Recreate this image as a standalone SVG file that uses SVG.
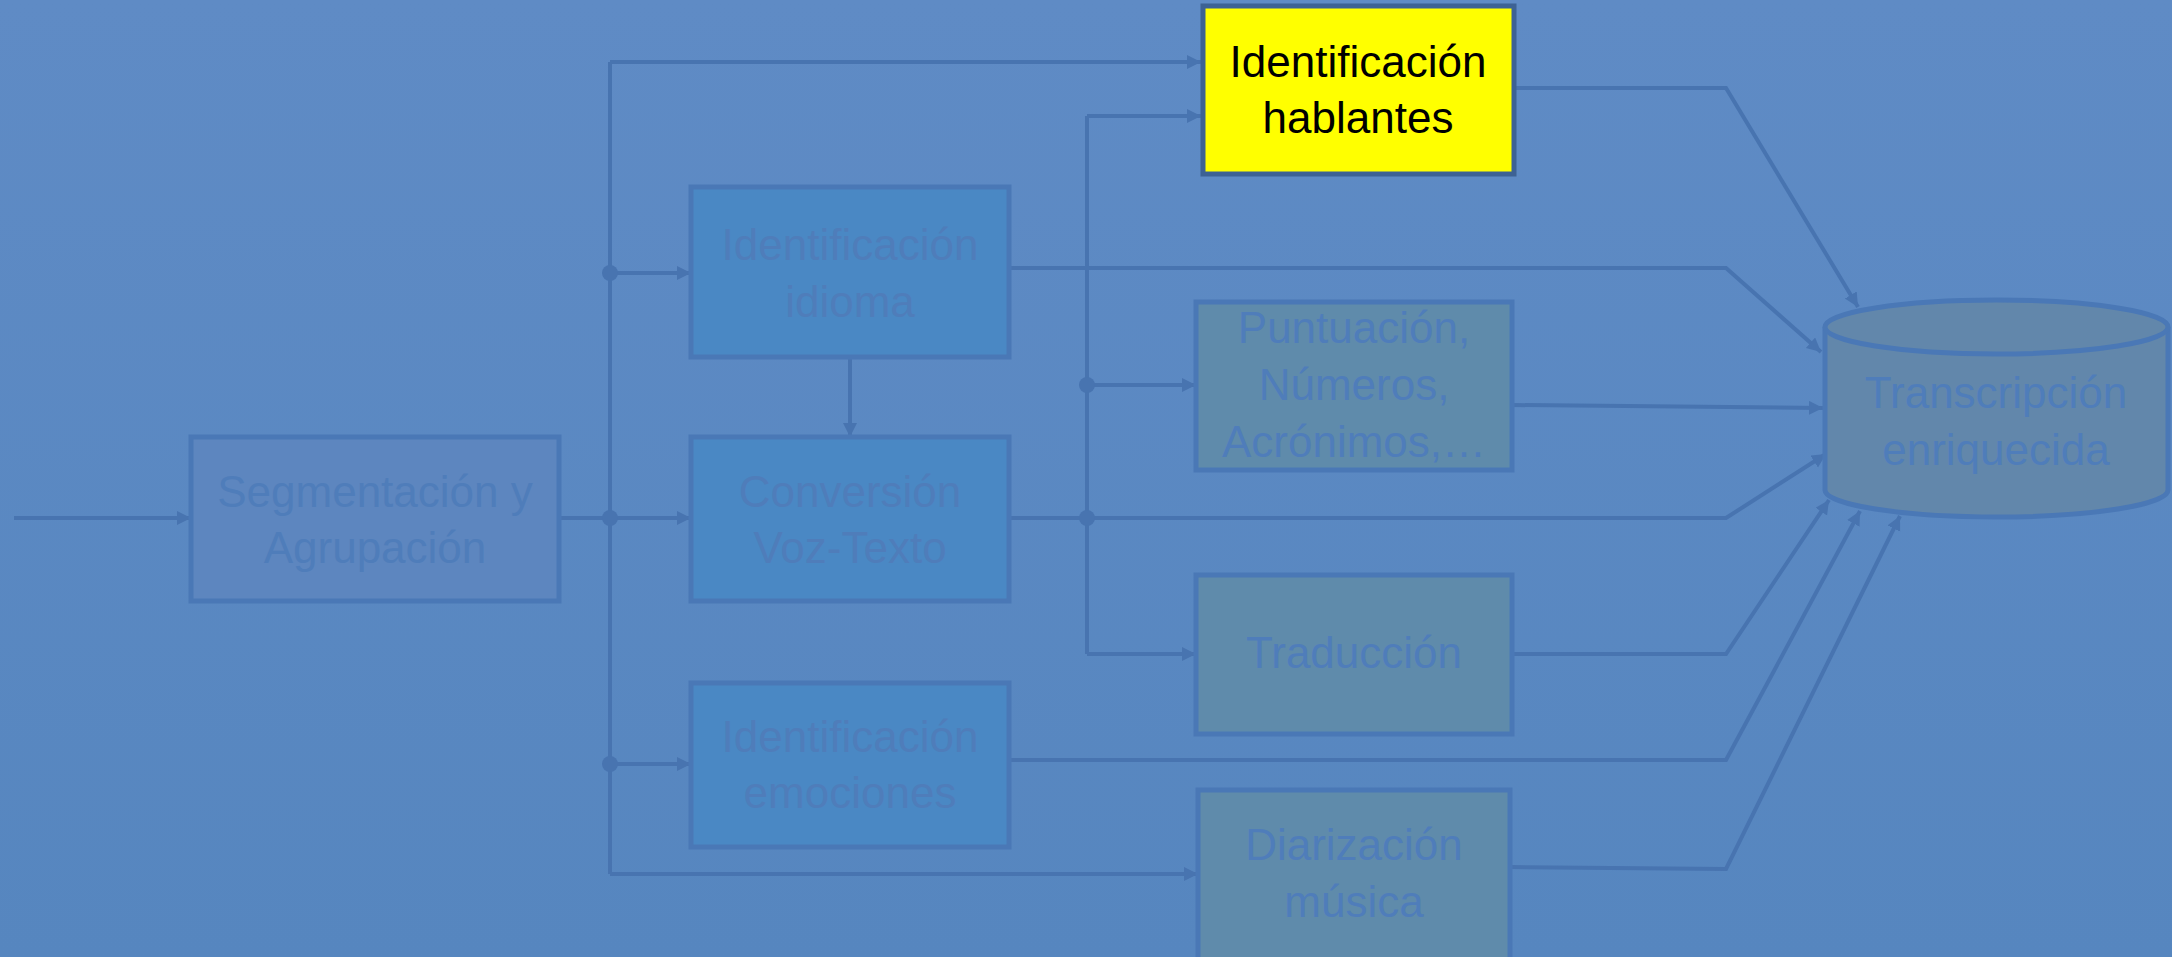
<svg xmlns="http://www.w3.org/2000/svg" width="2172" height="957" viewBox="0 0 2172 957">
<defs>
<linearGradient id="bg" x1="0" y1="0" x2="0" y2="1">
<stop offset="0" stop-color="#5f8bc5"/>
<stop offset="1" stop-color="#5686bf"/>
</linearGradient>
<marker id="arr" markerUnits="userSpaceOnUse" markerWidth="16" markerHeight="16" refX="14" refY="7" orient="auto">
<path d="M0,0 L14,7 L0,14 Z" fill="#4874b0"/>
</marker>
<style>
.ln{fill:none;stroke:#4874b0;stroke-width:4;}
.ar{marker-end:url(#arr);}
.dot{fill:#4874b0;}
.box{stroke:#4a78b6;stroke-width:5;}
.blue{fill:#4a88c4;}
.seg{fill:#5d86bf;}
.teal{fill:#5f8bab;}
.cyl{fill:#6287ab;stroke:#4a78b6;stroke-width:5;}
.t{font-family:"Liberation Sans",Arial,sans-serif;font-size:44px;text-anchor:middle;fill:#4f7dba;}
.tk{fill:#000000;}
</style>
</defs>
<rect x="0" y="0" width="2172" height="957" fill="url(#bg)"/>

<g id="connectors">
<line class="ln ar" x1="14" y1="518" x2="191" y2="518"/>
<line class="ln" x1="559" y1="518" x2="610" y2="518"/>
<line class="ln" x1="610" y1="62" x2="610" y2="874"/>
<line class="ln ar" x1="610" y1="62" x2="1201" y2="62"/>
<line class="ln ar" x1="610" y1="273" x2="691" y2="273"/>
<line class="ln ar" x1="610" y1="518" x2="691" y2="518"/>
<line class="ln ar" x1="610" y1="764" x2="691" y2="764"/>
<line class="ln ar" x1="610" y1="874" x2="1198" y2="874"/>
<line class="ln ar" x1="850" y1="357" x2="850" y2="437"/>
<line class="ln" x1="1087" y1="116" x2="1087" y2="654"/>
<line class="ln ar" x1="1087" y1="116" x2="1201" y2="116"/>
<line class="ln ar" x1="1087" y1="385" x2="1196" y2="385"/>
<line class="ln ar" x1="1087" y1="654" x2="1196" y2="654"/>
<polyline class="ln ar" points="1009,518 1726,518 1826,454"/>
<polyline class="ln ar" points="1009,268 1726,268 1821,352"/>
<polyline class="ln ar" points="1514,88 1726,88 1858,307"/>
<polyline class="ln ar" points="1512,405 1823,408"/>
<polyline class="ln ar" points="1512,654 1726,654 1829,500"/>
<polyline class="ln ar" points="1009,760 1726,760 1860,511"/>
<polyline class="ln ar" points="1510,867 1726,869 1900,516"/>
<circle class="dot" cx="610" cy="273" r="8"/>
<circle class="dot" cx="610" cy="518" r="8"/>
<circle class="dot" cx="610" cy="764" r="8"/>
<circle class="dot" cx="1087" cy="385" r="8"/>
<circle class="dot" cx="1087" cy="518" r="8"/>
</g>

<g id="segmentacion">
<rect class="box seg" x="191" y="437" width="368" height="164"/>
<text class="t" x="375" y="507">Segmentación y</text>
<text class="t" x="375" y="563">Agrupación</text>
</g>

<g id="idioma">
<rect class="box blue" x="691" y="187" width="318" height="170"/>
<text class="t" x="850" y="260">Identificación</text>
<text class="t" x="850" y="317">idioma</text>
</g>

<g id="conversion">
<rect class="box blue" x="691" y="437" width="318" height="164"/>
<text class="t" x="850" y="507">Conversión</text>
<text class="t" x="850" y="563">Voz-Texto</text>
</g>

<g id="emociones">
<rect class="box blue" x="691" y="683" width="318" height="164"/>
<text class="t" x="850" y="752">Identificación</text>
<text class="t" x="850" y="808">emociones</text>
</g>

<g id="hablantes">
<rect x="1203" y="6" width="311" height="168" fill="#ffff00" stroke="#3d6294" stroke-width="5"/>
<text class="t tk" x="1358" y="77">Identificación</text>
<text class="t tk" x="1358" y="133">hablantes</text>
</g>

<g id="puntuacion">
<rect class="box teal" x="1196" y="302" width="316" height="168"/>
<text class="t" x="1354" y="343">Puntuación,</text>
<text class="t" x="1354" y="400">Números,</text>
<text class="t" x="1354" y="457">Acrónimos,…</text>
</g>

<g id="traduccion">
<rect class="box teal" x="1196" y="575" width="316" height="159"/>
<text class="t" x="1354" y="668">Traducción</text>
</g>

<g id="diarizacion">
<rect class="box teal" x="1198" y="790" width="312" height="170"/>
<text class="t" x="1354" y="860">Diarización</text>
<text class="t" x="1354" y="917">música</text>
</g>

<g id="transcripcion">
<path class="cyl" d="M1825,327 L1825,490 A171.5,27 0 0 0 2168,490 L2168,327"/>
<ellipse class="cyl" cx="1996.5" cy="327" rx="171.5" ry="27"/>
<text class="t" x="1996" y="408">Transcripción</text>
<text class="t" x="1996" y="465">enriquecida</text>
</g>
</svg>
